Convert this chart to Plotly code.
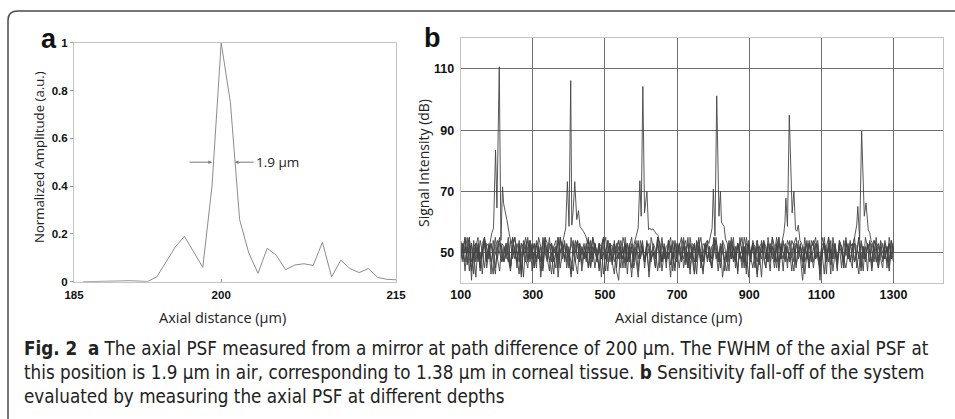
import numpy as np
import plotly.graph_objects as go

W, H = 955, 419

# ---------------- Panel a: axial PSF ----------------
psf_sample = list(range(1, 36))
psf_amp = [0.0, 0.0, 0.001, 0.002, 0.003, 0.004, 0.003, 0.001, 0.02, 0.08,
           0.145, 0.19, 0.125, 0.06, 0.40, 1.0, 0.75, 0.26, 0.12, 0.035,
           0.14, 0.11, 0.05, 0.07, 0.075, 0.068, 0.165, 0.02, 0.09, 0.055,
           0.038, 0.055, 0.018, 0.01, 0.008]
psf_tick_pos = [0, 16, 35]
psf_tick_text = ["185", "200", "215"]
amp_ticks = [0, 0.2, 0.4, 0.6, 0.8, 1.0]
amp_tick_text = ["0", "0.2", "0.4", "0.6", "0.8", "1"]

# ---------------- Panel b: sensitivity fall-off ----------------
depth_ticks = [100, 300, 500, 700, 900, 1100, 1300]
db_ticks = [50, 70, 90, 110]

noise1 = [52,48,55,46,53,41,54,47,52,44,53,55,48,50,43,54,51,46,55,49,
          48,53,45,52,55,50,47,54,43,51,55,48,50,53,45,54,52,48,44,53,
          50,55,47,52,49,55,45,50,54,47,52,42,50,54,48,53,46,52,50,45,
          54,48,53,50,44,52,55,48,50,53,46,54,45,52,50,48,53,43,52,55,
          47,50,53,48,52,45,54,50,47,53,51,44,50,55,48,52,53,46,50,45,
          53,51,48,54,46,50,43,53,52,48,55,45,50,53,47,52,48,55,50,44,
          52,53,47,50,54,48,52,45,53,50,47,55,51,42,50,53,48,52,46,54,
          50,45,53,52,48,50,55,47,52,44,53,50,48,54,52,46,50,53,45,52,
          48,54,50,47,53,51,43,50,55,48,52,46,53,50,45,54,52,48,50,53,
          47,52,55,45,50,53,48,52,44,54,50,47,53,52,48,45,54,50,53,48,52]
noise2 = [50,53,44,52,55,47,50,42,53,48,51,55,45,50,53,47,43,52,54,50,
          47,53,50,45,52,55,48,43,53,50,47,52,54,44,50,53,48,52,45,55,
          53,47,50,43,52,48,54,50,45,53,51,47,55,48,44,52,50,53,47,54,
          48,52,45,50,53,42,52,55,47,50,48,53,44,41,54,50,47,53,48,52,
          45,50,54,48,52,47,53,42,50,52,48,55,45,53,50,47,52,55,48,44,
          53,50,47,52,54,45,50,48,53,43,52,55,47,50,53,48,45,52,54,50,
          47,53,44,50,52,48,55,47,53,50,45,52,43,53,48,54,50,47,52,53,
          48,45,55,50,52,47,53,44,50,54,48,52,47,50,53,45,54,48,52,43,
          50,53,47,52,55,48,45,50,53,51,47,54,44,50,48,53,52,45,55,50,
          47,52,53,48,43,54,50,47,52,53,45,50,55,48,52,47,53,50,44,52,53]
noise3 = [53,47,52,50,55,44,48,53,52,45,50,55,47,53,48,43,52,54,50,47,
          52,48,53,45,55,50,47,52,42,53,50,54,48,52,45,53,50,47,55,52,
          48,44,53,50,52,47,55,48,53,45,50,52,54,47,43,53,50,48,52,55,
          45,50,53,47,52,48,55,50,44,53,52,47,50,54,48,52,45,53,50,42,
          52,54,48,50,53,47,52,45,55,50,48,53,52,44,50,47,54,52,48,53,
          50,45,52,55,47,50,53,48,43,52,54,50,47,53,48,52,45,50,55,47,
          52,42,48,50,44,55,52,47,53,50,48,52,45,54,50,53,47,43,52,50,
          54,48,53,47,52,50,45,55,48,53,52,47,50,44,53,55,48,52,47,50,
          53,45,52,54,48,50,47,53,52,43,55,50,48,53,47,52,50,45,54,48,
          52,53,47,50,55,44,52,48,53,50,47,54,52,45,50,53,48,52,47,54,50]
noise4 = [48,52,55,47,50,53,43,52,48,54,50,45,53,52,47,50,55,48,44,53,
          52,50,47,54,48,52,45,53,50,42,52,55,47,50,53,48,52,44,54,50,
          47,53,52,48,45,55,50,53,47,52,48,43,53,50,54,47,52,48,53,45,
          50,55,52,47,53,48,50,44,54,52,47,50,53,48,52,45,55,50,47,53,
          52,48,42,50,54,47,52,53,48,50,45,55,52,47,53,50,48,52,44,54,
          50,53,47,52,48,55,45,50,53,47,52,48,43,53,54,50,47,52,48,53,
          45,50,54,52,47,53,48,50,44,52,55,47,50,53,48,52,45,54,50,42,
          53,52,47,50,55,48,52,45,53,50,47,54,52,48,44,53,50,52,47,55,
          48,53,50,45,52,54,41,50,53,48,52,43,55,50,47,53,52,48,45,50,
          54,47,53,52,48,50,44,55,52,47,53,50,48,45,54,52,50,47,53,48,52]
noise5 = [54,50,47,52,44,53,48,52,55,45,50,53,47,52,43,54,50,48,53,52,
          47,50,55,45,52,48,53,50,44,54,52,47,53,48,50,45,55,52,47,53,
          50,48,43,52,54,42,50,53,48,52,45,55,50,47,53,52,44,50,48,54,
          52,47,53,50,45,52,55,48,50,53,47,43,52,54,50,48,53,47,52,45,
          50,54,48,52,53,47,50,44,55,52,48,53,50,47,52,45,54,50,53,48,
          47,52,55,45,50,53,48,52,43,54,50,47,53,52,48,50,45,55,52,47,
          53,50,48,44,52,54,47,50,53,48,52,45,55,50,47,53,52,42,50,48,
          54,52,47,53,50,45,52,55,48,50,53,47,52,44,54,50,48,53,52,47,
          50,45,54,52,48,53,47,50,43,52,55,48,50,53,47,52,45,54,50,48,
          53,52,47,50,55,45,52,48,53,50,44,54,52,47,53,50,48,52,45,54,50]
noise6 = [47,53,50,55,48,45,52,53,47,50,43,54,52,48,53,50,45,52,55,47,
          50,53,48,44,52,55,50,47,53,52,48,45,54,50,53,47,52,42,50,55,
          48,52,53,47,50,45,55,52,48,53,50,47,44,52,54,48,50,53,47,52,
          45,55,50,48,53,52,43,50,54,47,52,53,48,50,45,55,52,47,53,50,
          48,52,44,54,50,47,53,52,48,50,45,55,53,47,52,48,50,42,54,52,
          47,53,50,48,52,45,55,50,47,53,52,48,44,50,54,47,52,53,48,50,
          45,54,52,47,53,50,48,52,43,55,50,47,53,52,48,45,50,54,47,52,
          53,48,50,44,55,52,47,53,50,48,52,45,54,50,47,53,52,48,41,50,
          54,47,52,53,48,50,45,55,52,47,53,50,48,52,44,54,50,47,53,52,
          48,45,50,55,47,52,53,48,50,43,54,52,47,53,50,48,52,45,55,50,47]

peak1_x = [181, 186.5, 191, 196.6, 200.5, 203.5, 206.9, 209.5, 211.6, 214, 216, 219, 221.7, 228, 235.7, 241]
peak1_y = [53, 56.5, 58, 83.5, 64.6, 88, 110.7, 78, 54, 64, 71.5, 66, 64.6, 60.8, 55.4, 53]
peak2_x = [382, 386.4, 391, 395.8, 400.4, 405, 408, 412, 416.2, 421.8, 426.5, 431, 434.7, 440, 447, 452]
peak2_y = [53, 55, 58, 73.2, 58.6, 106.2, 59, 64, 73.2, 60.8, 63.7, 58.5, 58, 57, 55.4, 53]
peak3_x = [581, 586.5, 592, 596.7, 600.4, 605, 609.7, 616.3, 620.8, 625, 628.3, 633, 637.6, 642, 647, 652]
peak3_y = [53, 55.4, 58, 73.5, 61.9, 104.3, 63, 70, 57.5, 58, 57.4, 57.8, 56.8, 56.2, 55.6, 53]
peak4_x = [788, 793.8, 797, 800.5, 805, 809.8, 816, 820, 823, 826.6, 830.2, 834, 839]
peak4_y = [53, 56, 58, 70.8, 55.4, 101.2, 61.9, 70, 60, 59.2, 58.6, 54.5, 53]
peak5_x = [990, 996, 999, 1001.5, 1006, 1011, 1019, 1023.8, 1028.3, 1032, 1036, 1040.5, 1045]
peak5_y = [53, 56.5, 60, 67.8, 58.6, 94.9, 63, 70, 57.5, 57, 59, 54, 53]
peak6_x = [1189, 1195, 1198, 1201, 1206, 1211.6, 1219, 1223.7, 1230, 1234, 1237.6, 1242]
peak6_y = [53, 56.5, 59, 65.1, 54.3, 89.7, 61.9, 66.2, 57.5, 56.5, 54, 53]

noises = [noise1, noise2, noise3, noise4, noise5, noise6]
peaks_x = [peak1_x, peak2_x, peak3_x, peak4_x, peak5_x, peak6_x]
peaks_y = [peak1_y, peak2_y, peak3_y, peak4_y, peak5_y, peak6_y]

fig = go.Figure()

fig.add_trace(go.Scatter(x=psf_sample, y=psf_amp, mode="lines",
                         line=dict(color="#8c8c8c", width=1),
                         xaxis="x", yaxis="y", showlegend=False, hoverinfo="skip"))

for nz, px, py in zip(noises, peaks_x, peaks_y):
    nx = np.linspace(100, 1300, len(nz))
    lo, hi = px[0], px[-1]
    pts = [(x, y) for x, y in zip(nx, nz) if x < lo or x > hi]
    pts += list(zip(px, py))
    pts.sort(key=lambda p: p[0])
    fig.add_trace(go.Scatter(x=[p[0] for p in pts], y=[p[1] for p in pts], mode="lines",
                             line=dict(color="#444444", width=0.9),
                             xaxis="x2", yaxis="y2", showlegend=False, hoverinfo="skip"))

TICKF = dict(family="Liberation Sans, Arial", size=12.5, color="#111", weight="bold")
FRAME = "#c4c4c4"

def px_x(p):
    return p / W

def px_y(p):
    return 1 - p / H

fig.update_layout(
    width=W, height=H, margin=dict(l=0, r=0, t=0, b=0, autoexpand=False),
    paper_bgcolor="white", plot_bgcolor="white", showlegend=False,
    xaxis=dict(domain=[px_x(74), px_x(396)], range=[0, 35], anchor="y",
               tickvals=psf_tick_pos, ticktext=psf_tick_text, tickfont=dict(TICKF, size=11.5),
               ticks="inside", ticklen=3, tickcolor="#999", ticklabelstandoff=2,
               showgrid=False, zeroline=False,
               showline=True, mirror=True, linecolor=FRAME, linewidth=1),
    yaxis=dict(domain=[px_y(281.7), px_y(42.7)], range=[0, 1], anchor="x",
               tickvals=amp_ticks, ticktext=amp_tick_text, tickfont=dict(TICKF, size=11.5),
               ticks="outside", ticklen=3, tickcolor="#999", showgrid=False, zeroline=False,
               showline=True, mirror=True, linecolor=FRAME, linewidth=1),
    xaxis2=dict(domain=[px_x(460.7), px_x(943.3)], range=[100, 1438], anchor="y2",
                tickvals=depth_ticks, tickfont=TICKF, ticks="",
                showgrid=True, gridcolor="#6e6e6e", gridwidth=1, zeroline=False,
                showline=True, mirror=True, linecolor=FRAME, linewidth=1),
    yaxis2=dict(domain=[px_y(283.3), px_y(38.3)], range=[40, 120], anchor="x2",
                tickvals=db_ticks, tickfont=TICKF, ticks="", ticklabelstandoff=3,
                showgrid=True, gridcolor="#6e6e6e", gridwidth=1, zeroline=False,
                showline=True, mirror=True, linecolor=FRAME, linewidth=1),
)

def label(x, y, text, size, angle=0, family="Open Sans", color="#222"):
    return dict(x=px_x(x), y=px_y(y), xref="paper", yref="paper", text=text,
                xanchor="center", yanchor="middle", textangle=angle, showarrow=False,
                font=dict(family=family, size=size, color=color))

ann = [
    label(49, 39, "<b>a</b>", 27, family="Liberation Sans, Arial", color="#111"),
    label(432, 38, "<b>b</b>", 27, family="Liberation Sans, Arial", color="#111"),
    label(39, 157, "Normalized Amplitude (a.u.)", 13.2, angle=-90),
    label(222, 317, "Axial distance (µm)", 14.5),
    label(423, 163, "Signal Intensity (dB)", 14, angle=-90),
    label(678, 317, "Axial distance (µm)", 14.5),
]
# FWHM arrows
ann.append(dict(x=15.0, y=0.5, ax=12.4, ay=0.5, xref="x", yref="y", axref="x", ayref="y",
                text="", showarrow=True, arrowhead=2, arrowsize=0.7, arrowwidth=1, arrowcolor="#777"))
ann.append(dict(x=17.5, y=0.5, ax=19.7, ay=0.5, xref="x", yref="y", axref="x", ayref="y",
                text="", showarrow=True, arrowhead=2, arrowsize=0.7, arrowwidth=1, arrowcolor="#777"))
ann.append(dict(x=19.6, y=0.5, xref="x", yref="y", text="1.9 µm", xanchor="left", yanchor="middle",
                showarrow=False, font=dict(family="Open Sans", size=13.5, color="#222")))

CAPF = dict(family="DejaVu Sans Condensed", size=18.7, color="#222")
cap_lines = [
    "<b>Fig. 2</b>\u00a0 <b>a</b> The axial PSF measured from a mirror at path difference of 200 µm. The FWHM of the axial PSF at",
    "this position is 1.9 µm in air, corresponding to 1.38 µm in corneal tissue. <b>b</b> Sensitivity fall-off of the system",
    "evaluated by measuring the axial PSF at different depths",
]
for line, yp in zip(cap_lines, [348, 372, 396]):
    ann.append(dict(x=px_x(22), y=px_y(yp), xref="paper", yref="paper", text=line, xanchor="left",
                    yanchor="middle", showarrow=False, font=CAPF))
fig.update_layout(annotations=ann)

fig.add_shape(type="path", xref="paper", yref="paper",
              path=f"M {px_x(8)},0 L {px_x(8)},{px_y(20)} Q {px_x(8)},{px_y(11)} {px_x(18)},{px_y(11)} L 1,{px_y(11)}",
              line=dict(color="#4a4a4a", width=1.5))

fig.write_html("out.html", config={"displayModeBar": False},
               post_script="document.body.style.margin='0';document.body.style.overflow='hidden';")
